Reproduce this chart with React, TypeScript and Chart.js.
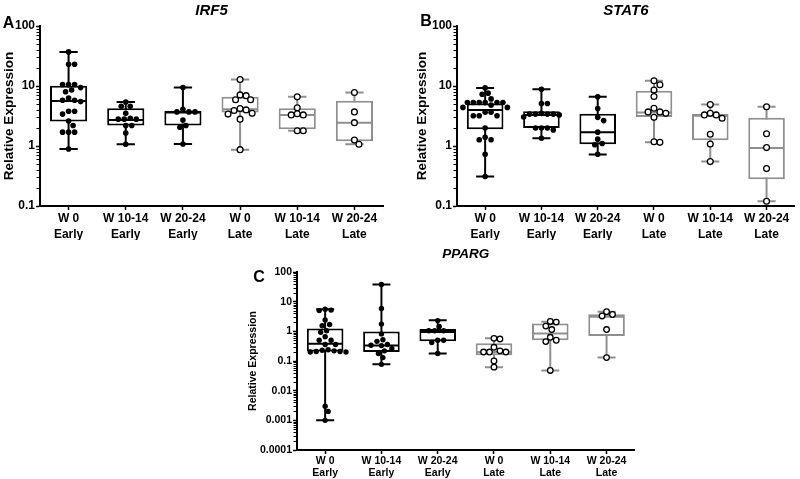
import React, { useEffect, useRef } from 'react';
import { Chart, registerables } from 'chart.js';

Chart.register(...registerables);

const FONT = '"Liberation Sans", Arial, Helvetica, sans-serif';
Chart.defaults.font.family = FONT;

// ---------- categories ----------
const groupNames = ['W 0', 'W 10-14', 'W 20-24', 'W 0', 'W 10-14', 'W 20-24'];
const groupStages = ['Early', 'Early', 'Early', 'Late', 'Late', 'Late'];
const lateGroup = [false, false, false, true, true, true];

// ---------- tick labels ----------
const abTickLabels = ['0.1', '1', '10', '100'];
const cTickLabels = ['0.0001', '0.001', '0.01', '0.1', '1', '10', '100'];

// ---------- IRF5 ----------
const irf5Points = [
  [37, 23, 23, 10.6, 10.6, 10.6, 9.4, 8.6, 8.0, 6.3, 5.8, 5.5, 5.8, 3.8, 3.8, 3.4, 2.6, 2.2, 1.7, 1.7, 1.7, 0.89],
  [5.4, 4.6, 4.6, 3.5, 2.9, 2.8, 2.8, 2.8, 2.2, 2.2, 1.65, 1.07],
  [9.4, 4.1, 3.7, 3.7, 3.7, 2.7, 2.2, 2.05, 1.08],
  [12.8, 7.1, 6.9, 5.9, 5.9, 4.2, 4.0, 3.9, 3.5, 3.4, 2.8, 0.87],
  [6.6, 4.35, 3.45, 3.3, 3.3, 1.8, 1.8],
  [7.8, 3.7, 2.45, 1.26, 1.07],
];
const irf5Min = [0.89, 1.07, 1.08, 0.87, 1.8, 1.07];
const irf5Q1 = [2.55, 2.2, 2.2, 3.6, 1.9, 1.2];
const irf5Median = [5.6, 2.7, 3.6, 4.1, 3.3, 2.45];
const irf5Q3 = [10.1, 4.25, 3.85, 6.6, 4.25, 5.7];
const irf5Max = [37, 5.4, 9.4, 12.8, 6.6, 7.8];

// ---------- STAT6 ----------
const stat6Points = [
  [9.3, 7.6, 7.3, 6.1, 5.3, 5.3, 5.3, 5.3, 5.3, 5.3, 4.8, 4.4, 4.4, 3.65, 3.65, 3.2, 3.2, 3.2, 2.0, 1.4, 1.27, 1.27, 0.73, 0.31],
  [8.8, 5.1, 5.1, 3.5, 3.4, 3.4, 3.4, 3.4, 3.3, 3.05, 2.0, 2.0, 2.0, 1.85, 1.35],
  [6.6, 4.2, 3.0, 2.65, 1.7, 1.3, 1.1, 1.05, 0.73],
  [12.2, 10.5, 8.6, 6.7, 4.25, 3.7, 3.7, 3.5, 3.0, 1.15, 1.18],
  [4.9, 3.5, 3.3, 3.3, 2.9, 1.57, 1.08, 0.55],
  [4.5, 1.6, 0.94, 0.42, 0.12],
];
const stat6Min = [0.31, 1.35, 0.72, 1.15, 0.55, 0.12];
const stat6Q1 = [1.9, 2.0, 1.07, 3.05, 1.25, 0.28];
const stat6Median = [4.0, 3.3, 1.7, 3.6, 3.2, 0.93];
const stat6Q3 = [5.1, 3.8, 3.45, 8.3, 3.4, 2.95];
const stat6Max = [9.3, 8.8, 6.6, 12.2, 4.9, 4.5];

// ---------- PPARG ----------
const ppargPoints = [
  [5.6, 5.2, 5.0, 2.4, 1.7, 1.55, 1.05, 0.93, 0.66, 0.5, 0.5, 0.36, 0.36, 0.24, 0.23, 0.22, 0.21, 0.21, 0.2, 0.2, 0.003, 0.002, 0.001],
  [38, 5.9, 1.75, 0.82, 0.52, 0.46, 0.36, 0.34, 0.33, 0.26, 0.22, 0.18, 0.13, 0.077],
  [2.3, 1.45, 1.05, 1.05, 1.05, 0.5, 0.5, 0.42, 0.18],
  [0.58, 0.55, 0.29, 0.22, 0.2, 0.2, 0.2, 0.1, 0.062],
  [2.15, 2.05, 1.5, 1.15, 0.63, 0.5, 0.45, 0.048],
  [4.6, 3.7, 3.3, 1.15, 0.13],
];
const ppargMin = [0.001, 0.077, 0.18, 0.062, 0.048, 0.13];
const ppargQ1 = [0.21, 0.2, 0.46, 0.155, 0.5, 0.7];
const ppargMedian = [0.38, 0.33, 0.95, 0.2, 0.85, 3.1];
const ppargQ3 = [1.25, 0.98, 1.2, 0.4, 1.85, 3.8];
const ppargMax = [5.6, 38, 2.35, 0.58, 2.1, 4.6];

// ---------- styling / layout ----------
const EARLY = '#000000';
const LATE = '#8f8f8f';
const CAP = 0.16;
const MED = 0.31;

const panels = [
  {
    key: 'A', title: 'IRF5', tickLabels: abTickLabels,
    points: irf5Points, min: irf5Min, q1: irf5Q1, med: irf5Median, q3: irf5Q3, max: irf5Max,
    left: 0, top: 0, width: 400, height: 240, axisW: 40, axisH: 34, padRight: 17,
    titleSize: 15, titlePad: { top: 2, bottom: 6 }, yTitleSize: 13.5, yTitlePad: 1,
    yTickSize: 12, xTickSize: 12, xLineHeight: 1.3,
    letterX: 8.5, letterY: 23.5, letterSize: 16, pxDecade: 60, pxUnit: 57, radius: 2.8,
  },
  {
    key: 'B', title: 'STAT6', tickLabels: abTickLabels,
    points: stat6Points, min: stat6Min, q1: stat6Q1, med: stat6Median, q3: stat6Q3, max: stat6Max,
    left: 400, top: 0, width: 400, height: 240, axisW: 57, axisH: 34, padRight: 3,
    titleSize: 15, titlePad: { top: 2, bottom: 6 }, yTitleSize: 13.5, yTitlePad: 14.4,
    yTickSize: 12, xTickSize: 12, xLineHeight: 1.3,
    letterX: 26, letterY: 22, letterSize: 16, pxDecade: 60, pxUnit: 57, radius: 2.8,
  },
  {
    key: 'C', title: 'PPARG', tickLabels: cTickLabels,
    points: ppargPoints, min: ppargMin, q1: ppargQ1, med: ppargMedian, q3: ppargQ3, max: ppargMax,
    left: 240, top: 240, width: 400, height: 239, axisW: 57, axisH: 29, padRight: 2,
    titleSize: 13.5, titlePad: { top: 6, bottom: 9.8 }, yTitleSize: 10.5, yTitlePad: 7,
    yTickSize: 10.5, xTickSize: 10.5, xLineHeight: 1.15,
    letterX: 19, letterY: 37.5, letterSize: 16, pxDecade: 29.7, pxUnit: 56.7, radius: 2.7,
  },
];

// horizontal spreading of dots that share a height (layout only)
function swarm(values: number[], pxDecade: number, pxUnit: number, diam: number): number[] {
  const order = values.map((_, i) => i).sort((a, b) => values[b] - values[a]);
  const placed: { x: number; y: number }[] = [];
  const offs = new Array(values.length).fill(0);
  const step = diam * 0.25;
  for (const i of order) {
    const y = Math.log10(values[i]) * pxDecade;
    for (let k = 0; k < 120; k++) {
      const s = Math.ceil(k / 2) * (k % 2 === 1 ? 1 : -1);
      const x = s * step;
      if (placed.every((p) => Math.hypot(p.x - x, p.y - y) >= diam)) {
        placed.push({ x, y });
        offs[i] = x / pxUnit;
        break;
      }
    }
  }
  return offs;
}

function buildTicks(labels: string[]) {
  const majors = labels.map((l) => parseFloat(l));
  const ticks: { value: number; major: boolean; label: string }[] = [];
  for (let j = 0; j < majors.length; j++) {
    ticks.push({ value: majors[j], major: true, label: labels[j] });
    if (j < majors.length - 1) {
      for (let m = 2; m < 10; m++) {
        ticks.push({ value: parseFloat((m * majors[j]).toPrecision(6)), major: false, label: '' });
      }
    }
  }
  return ticks;
}

const panelDecor = {
  id: 'panelDecor',
  afterDraw(chart: any, _args: any, opts: any) {
    const { ctx } = chart;
    ctx.save();
    ctx.fillStyle = '#000';
    ctx.font = `bold ${opts.size}px ${FONT}`;
    ctx.textAlign = 'center';
    ctx.textBaseline = 'middle';
    ctx.fillText(opts.letter, opts.x, opts.y);
    const ys = chart.scales.y;
    ctx.strokeStyle = '#000';
    ctx.lineWidth = 1;
    ys.ticks.forEach((t: any) => {
      if (!t.major) {
        const py = Math.round(ys.getPixelForValue(t.value)) + 0.5;
        ctx.beginPath();
        ctx.moveTo(ys.right - 1, py);
        ctx.lineTo(ys.right - 3.5, py);
        ctx.stroke();
      }
    });
    ctx.restore();
  },
};

function buildConfig(p: any) {
  const earlyPts: any[] = [];
  const latePts: any[] = [];
  p.points.forEach((vals: number[], i: number) => {
    const offs = swarm(vals, p.pxDecade, p.pxUnit, 6.0);
    vals.forEach((v, k) => {
      (lateGroup[i] ? latePts : earlyPts).push({ x: i + offs[k], y: v });
    });
  });
  const whisk = (late: boolean) => {
    const d: any[] = [];
    for (let i = 0; i < groupNames.length; i++) {
      if (lateGroup[i] !== late) continue;
      d.push(
        { x: i - CAP, y: p.min[i] }, { x: i + CAP, y: p.min[i] }, { x: i, y: null },
        { x: i, y: p.min[i] }, { x: i, y: p.max[i] }, { x: i, y: null },
        { x: i - CAP, y: p.max[i] }, { x: i + CAP, y: p.max[i] }, { x: i, y: null },
      );
    }
    return d;
  };
  const med = (late: boolean) => {
    const d: any[] = [];
    for (let i = 0; i < groupNames.length; i++) {
      if (lateGroup[i] !== late) continue;
      d.push({ x: i - MED, y: p.med[i] }, { x: i + MED, y: p.med[i] }, { x: i, y: null });
    }
    return d;
  };
  const boxes = groupNames.map((_, i) => ({ x: i, y: [p.q1[i], p.q3[i]] }));
  const boxColors = lateGroup.map((l) => (l ? LATE : EARLY));
  const yTicks = buildTicks(p.tickLabels);
  const lineBase = { pointRadius: 0, borderWidth: 2, spanGaps: false, fill: false, tension: 0 };

  return {
    type: 'bar',
    data: {
      datasets: [
        { type: 'scatter', data: earlyPts, backgroundColor: '#000', borderColor: '#000', borderWidth: 0, pointRadius: p.radius, order: 0 },
        { type: 'scatter', data: latePts, backgroundColor: '#fff', borderColor: '#000', borderWidth: 1.3, pointRadius: p.radius + 0.1, order: 0 },
        { type: 'line', data: med(false), borderColor: EARLY, ...lineBase, order: 1 },
        { type: 'line', data: med(true), borderColor: LATE, ...lineBase, order: 1 },
        {
          type: 'bar', data: boxes, backgroundColor: '#fff', borderColor: boxColors, borderWidth: 2,
          borderSkipped: false, barPercentage: 0.65, categoryPercentage: 1, order: 2,
        },
        { type: 'line', data: whisk(false), borderColor: EARLY, ...lineBase, order: 3 },
        { type: 'line', data: whisk(true), borderColor: LATE, ...lineBase, order: 3 },
      ],
    },
    options: {
      animation: false,
      responsive: false,
      devicePixelRatio: 1,
      layout: { padding: { left: 0, right: p.padRight, top: 0, bottom: 0 } },
      plugins: {
        legend: { display: false },
        tooltip: { enabled: false },
        title: {
          display: true, text: p.title, color: '#000', fullSize: false,
          font: { family: FONT, size: p.titleSize, weight: 'bold', style: 'italic', lineHeight: 1.2 },
          padding: p.titlePad,
        },
        panelDecor: { letter: p.key, x: p.letterX, y: p.letterY, size: p.letterSize },
      },
      scales: {
        x: {
          type: 'linear', min: -0.5, max: 5.5, offset: false,
          afterBuildTicks: (s: any) => { s.ticks = groupNames.map((_, i) => ({ value: i })); },
          afterFit: (s: any) => { s.height = p.axisH; },
          grid: { display: true, drawOnChartArea: false, offset: false, tickLength: 4, tickWidth: 1.5, tickColor: '#000' },
          border: { display: true, color: '#000', width: 2 },
          ticks: {
            autoSkip: false, maxRotation: 0, minRotation: 0, padding: 1, color: '#000',
            font: { size: p.xTickSize, weight: 'bold', lineHeight: p.xLineHeight },
            callback: (v: any) => [groupNames[v], groupStages[v]],
          },
        },
        y: {
          type: 'logarithmic', min: yTicks[0].value, max: yTicks[yTicks.length - 1].value,
          afterBuildTicks: (s: any) => { s.ticks = yTicks.map((t) => ({ ...t })); },
          afterFit: (s: any) => { s.width = p.axisW; },
          grid: {
            display: true, drawOnChartArea: false, tickLength: 4, tickWidth: 1.5,
            tickColor: (c: any) => (c.tick && c.tick.major ? '#000' : 'rgba(0,0,0,0)'),
          },
          border: { display: true, color: '#000', width: 2 },
          ticks: {
            autoSkip: false, padding: 1, color: '#000',
            font: { size: p.yTickSize, weight: 'bold' },
            callback: (_v: any, i: number, ticks: any[]) => (ticks[i] && ticks[i].label) || '',
          },
          title: {
            display: true, text: 'Relative Expression', color: '#000',
            font: { size: p.yTitleSize, weight: 'bold' },
            padding: { top: p.yTitlePad, bottom: 0 },
          },
        },
      },
    },
    plugins: [panelDecor],
  };
}

function Panel({ p }: { p: any }) {
  const ref = useRef<HTMLCanvasElement>(null);
  useEffect(() => {
    const chart = new Chart(ref.current as HTMLCanvasElement, buildConfig(p) as any);
    return () => chart.destroy();
  }, [p]);
  return (
    <canvas
      ref={ref}
      width={p.width}
      height={p.height}
      style={{ position: 'absolute', left: p.left, top: p.top, width: p.width, height: p.height }}
    />
  );
}

export default function App() {
  return (
    <div style={{ position: 'absolute', left: 0, top: 0, width: 800, height: 479, background: '#fff', overflow: 'hidden' }}>
      {panels.map((p) => (
        <Panel key={p.key} p={p} />
      ))}
    </div>
  );
}
